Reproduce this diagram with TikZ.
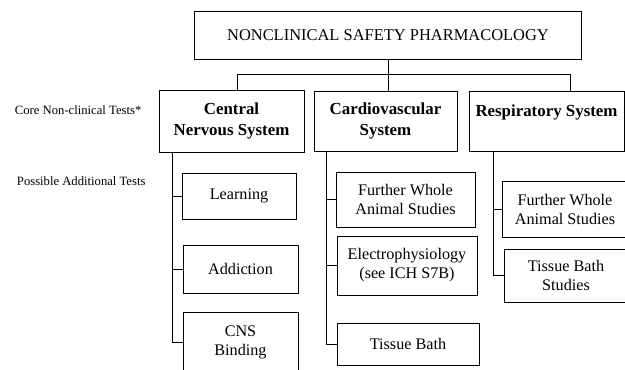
\documentclass[tikz,border=0pt]{standalone}
\usepackage{fontspec}
\setmainfont{Liberation Serif}
\usetikzlibrary{calc}

\begin{document}
\begin{tikzpicture}[x=0.025cm,y=-0.025cm,
	box/.style={draw,line width=0.6pt,align=center,inner sep=0pt,font=\fontsize{11.5}{13.5}\selectfont},
	sysbox/.style={box,font=\fontsize{12}{14.5}\selectfont\bfseries},
	side/.style={anchor=west,font=\fontsize{9}{10}\selectfont}]
	\useasboundingbox (0,0) rectangle (625,369);

	\draw (388,35) node (title) [box,minimum width=9.675cm,minimum height=1.2cm,font=\fontsize{11.7}{13}\selectfont] {NONCLINICAL SAFETY PHARMACOLOGY};

	\draw (231.5,121) node (cns) [sysbox,minimum width=3.625cm,minimum height=1.55cm] {Central\\Nervous System};
	\draw (385.5,121) node (cvs) [sysbox,minimum width=3.575cm,minimum height=1.5cm] {Cardiovascular\\System};
	\draw (546.5,121) node (rs) [sysbox,minimum width=3.875cm,minimum height=1.5cm] {Respiratory System\\ \mbox{}};

	\draw (10,110) node (core) [side] {Core Non-clinical Tests*};
	\draw (12,181) node (extra) [side] {Possible Additional Tests};

	\draw (239,196) node (learn) [box,minimum width=2.85cm,minimum height=1.15cm] {Learning};
	\draw (240.5,269) node (addict) [box,minimum width=2.875cm,minimum height=1.2cm] {Addiction};
	\draw (240.5,342) node (bind) [box,minimum width=2.875cm,minimum height=1.5cm] {CNS\\Binding};

	\draw (405.5,199.5) node (cvwhole) [box,minimum width=3.475cm,minimum height=1.375cm] {Further Whole\\Animal Studies};
	\draw (407,265.5) node (electro) [box,minimum width=3.5cm,minimum height=1.475cm] {Electrophysiology\\(see ICH S7B)};
	\draw (408,344) node (cvbath) [box,minimum width=3.55cm,minimum height=1.05cm] {Tissue Bath};

	\draw (565,209) node (rswhole) [box,minimum width=3.15cm,minimum height=1.4cm] {Further Whole\\Animal Studies};
	\draw (566,275.5) node (rsbath) [box,minimum width=3.1cm,minimum height=1.325cm] {Tissue Bath\\Studies};

	\coordinate (busL) at (237,74);
	\coordinate (busR) at (570,74);
	\coordinate (cnsline) at (172,0);
	\coordinate (cvsline) at (326,0);
	\coordinate (rsline) at (493,0);

	\draw[line width=0.6pt] (title.south) -- (title.south |- cvs.north);
	\draw[line width=0.6pt] (busL |- cns.north) -- (busL) -- (busR) -- (busR |- rs.north);

	\draw[line width=0.6pt] (cnsline |- cns.south) |- (bind.west);
	\draw[line width=0.6pt] (cnsline |- learn.west) -- (learn.west);
	\draw[line width=0.6pt] (cnsline |- addict.west) -- (addict.west);

	\draw[line width=0.6pt] (cvsline |- cvs.south) |- (cvbath.west);
	\draw[line width=0.6pt] (cvsline |- cvwhole.west) -- (cvwhole.west);
	\draw[line width=0.6pt] (cvsline |- electro.west) -- (electro.west);

	\draw[line width=0.6pt] (rsline |- rs.south) |- (rsbath.west);
	\draw[line width=0.6pt] (rsline |- rswhole.west) -- (rswhole.west);
\end{tikzpicture}
\end{document}
